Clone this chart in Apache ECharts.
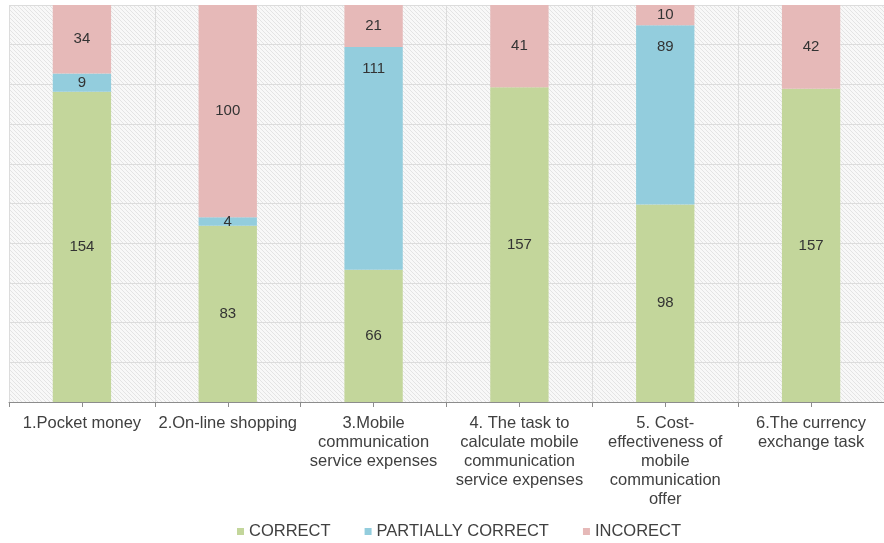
<!DOCTYPE html>
<html>
<head>
<meta charset="utf-8">
<script src="https://cdn.jsdelivr.net/npm/echarts@6/dist/echarts.min.js"></script>
<style>
  html, body { margin: 0; padding: 0; background: #ffffff; }
  #chart { width: 884px; height: 543px; }
</style>
</head>
<body>
<div id="chart"></div>
<script>
// Task categories (line breaks as they wrap under the axis)
const categories = [
  '1.Pocket money',
  '2.On-line shopping',
  '3.Mobile\ncommunication\nservice expenses',
  '4. The task to\ncalculate mobile\ncommunication\nservice expenses',
  '5. Cost-\neffectiveness of\nmobile\ncommunication\noffer',
  '6.The currency\nexchange task'
];

// Number of answers per task
const correct   = [154, 83, 66, 157, 98, 157];
const partially = [9, 4, 111, 0, 89, 0];
const incorrect = [34, 100, 21, 41, 10, 42];

const seriesNames = ['CORRECT', 'PARTIALLY CORRECT', 'INCORECT'];
const seriesColors = ['#c3d69b', '#93cddd', '#e6b9b8'];

// Totals per task, used to draw each bar as a share of 100 %
const totals = categories.map((_, i) => correct[i] + partially[i] + incorrect[i]);

// Light diagonal hatching for the plot background
function hatchPattern() {
  const c = document.createElement('canvas');
  c.width = 4; c.height = 4;
  const ctx = c.getContext('2d');
  ctx.fillStyle = '#f8f8f8';
  ctx.fillRect(0, 0, 4, 4);
  ctx.strokeStyle = '#e4e4e4';
  ctx.lineWidth = 1;
  ctx.beginPath();
  ctx.moveTo(-1, -1); ctx.lineTo(5, 5);
  ctx.moveTo(-1, 3); ctx.lineTo(1, 5);
  ctx.moveTo(3, -1); ctx.lineTo(5, 1);
  ctx.stroke();
  return { image: c, repeat: 'repeat' };
}

// Large partially-correct segments carry their label near the top
const topLabelled = new Set([2, 4]);

function buildData(values, seriesIndex) {
  return values.map((v, i) => {
    const item = { value: v / totals[i] * 100, count: v };
    if (seriesIndex === 1 && topLabelled.has(i)) {
      item.label = { position: 'insideTop', distance: 14 };
    }
    return item;
  });
}

const FONT = 'Liberation Sans, Arial, sans-serif';

const chart = echarts.init(document.getElementById('chart'), null, { renderer: 'canvas' });

const option = {
  animation: false,
  textStyle: { fontFamily: FONT },
  grid: {
    left: 9, top: 5, width: 881, bottom: 141,
    show: true,
    backgroundColor: hatchPattern(),
    borderWidth: 0
  },
  legend: {
    top: 518,
    left: 232,
    itemWidth: 7,
    itemHeight: 7,
    itemGap: 34,
    icon: 'rect',
    textStyle: { fontFamily: FONT, fontSize: 16.5, color: '#404040' },
    data: seriesNames
  },
  xAxis: [
    {
      type: 'category',
      position: 'bottom',
      data: categories,
      axisLine: { lineStyle: { color: '#8c8c8c' } },
      axisTick: { show: true, length: 5, lineStyle: { color: '#8c8c8c' } },
      axisLabel: {
        interval: 0,
        margin: 12,
        fontFamily: FONT,
        fontSize: 16.5,
        lineHeight: 19,
        color: '#404040',
        align: 'center'
      },
      splitLine: { show: true, lineStyle: { color: '#dcdcdc', width: 1 } }
    },
    {
      type: 'category',
      position: 'bottom',
      data: categories,
      axisLine: { show: false },
      axisTick: { show: true, alignWithLabel: true, length: 5, lineStyle: { color: '#8c8c8c' } },
      axisLabel: { show: false },
      splitLine: { show: false }
    }
  ],
  yAxis: {
    type: 'value',
    min: 0,
    max: 100,
    interval: 10,
    axisLabel: { show: false },
    axisLine: { show: false },
    axisTick: { show: false },
    splitLine: { show: true, lineStyle: { color: '#dcdcdc', width: 1 } }
  },
  series: [correct, partially, incorrect].map((vals, si) => ({
    name: seriesNames[si],
    type: 'bar',
    stack: 'total',
    barWidth: '40%',
    itemStyle: { color: seriesColors[si] },
    label: {
      show: true,
      position: 'inside',
      fontFamily: FONT,
      fontSize: 15,
      color: '#333333',
      formatter: p => (p.data.count ? String(p.data.count) : '')
    },
    data: buildData(vals, si)
  }))
};

chart.setOption(option);
</script>
</body>
</html>
